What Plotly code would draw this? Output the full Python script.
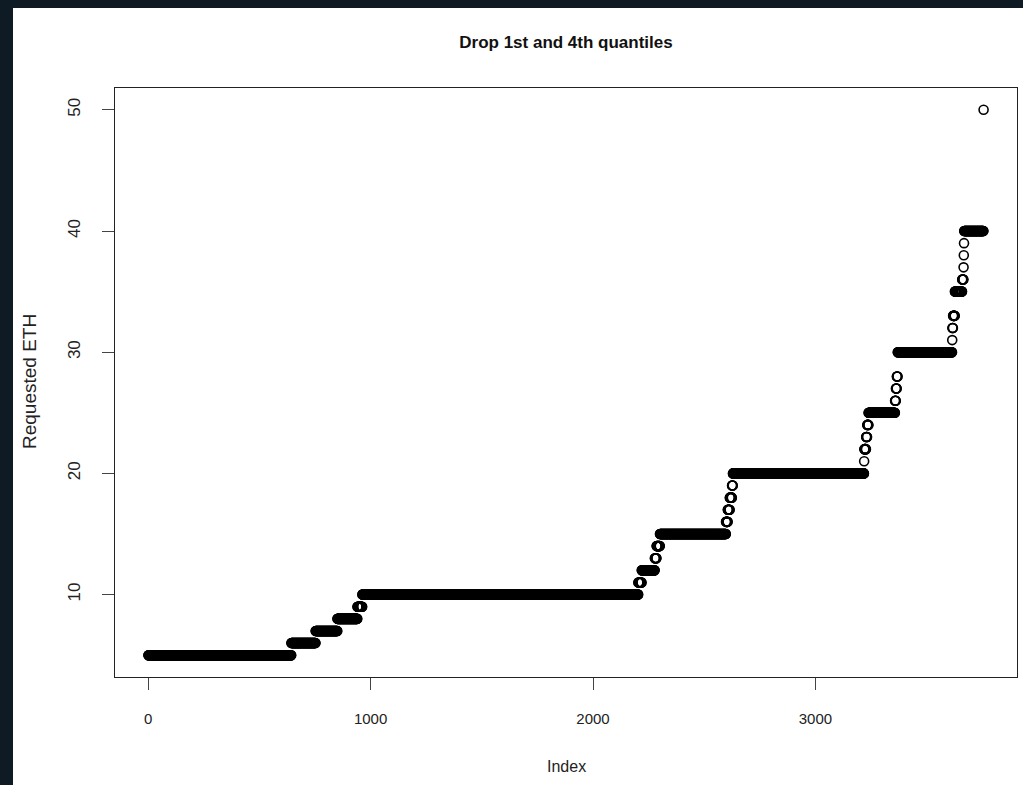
import numpy as np
import plotly.graph_objects as go

# Sorted "Requested ETH" values (levels) and how many observations sit at each level
levels = [5, 6, 7, 8, 9, 10, 11, 12, 13, 14, 15, 16, 17, 18, 19, 20,
          21, 22, 23, 24, 25, 26, 27, 28, 30, 31, 32, 33, 35, 36, 37, 38, 39, 40, 50]
counts = [643, 109, 98, 90, 22, 1241, 15, 59, 8, 15, 297, 8, 9, 10, 4, 590,
          1, 8, 5, 6, 119, 4, 4, 4, 245, 1, 3, 8, 33, 6, 1, 1, 1, 87, 1]

x_ticks = [0, 1000, 2000, 3000]
y_ticks = [10, 20, 30, 40, 50]

values = np.repeat(levels, counts)
index = np.arange(1, len(values) + 1)
n = len(values)

DARK = "#0e1b25"
W, H = 1023, 785
L, R, T, B = 115, 6, 88, 108
pw, ph = W - L - R, H - T - B

def px_x(p):
    return (p - L) / pw

def px_y(p):
    return (H - B - p) / ph

fig = go.Figure()
fig.add_trace(go.Scatter(
    x=index, y=values, mode="markers",
    marker=dict(symbol="circle-open", size=9, color="black",
                line=dict(width=1.6, color="black")),
    hoverinfo="x+y", showlegend=False,
))

xr = [1 - 0.04 * (n - 1), n + 0.04 * (n - 1)]
yr = [min(levels) - 0.04 * (max(levels) - min(levels)),
      max(levels) + 0.04 * (max(levels) - min(levels))]

font_family = "Liberation Sans, Arial, sans-serif"

axis_common = dict(
    showgrid=False, zeroline=False, showline=True, mirror=True,
    linecolor="#222", linewidth=1, ticks="outside", ticklen=12,
    tickcolor="#444", tickwidth=1,
)

fig.update_layout(
    width=W, height=H,
    margin=dict(l=L, r=R, t=T, b=B, pad=0),
    paper_bgcolor=DARK, plot_bgcolor="white",
    xaxis=dict(range=xr, tickvals=x_ticks, ticktext=[str(v) for v in x_ticks],
               tickfont=dict(family=font_family, size=15, color="#222"),
               ticklabelstandoff=16, **axis_common),
    yaxis=dict(range=yr, tickvals=y_ticks, ticktext=[str(v) for v in y_ticks], tickangle=-90,
               tickfont=dict(family=font_family, size=17, color="#222"),
               ticklabelstandoff=15, **axis_common),
    title=dict(text="<b>Drop 1st and 4th quantiles</b>", x=0.5, xref="paper",
               y=1 - 42 / H, yref="container", yanchor="middle", xanchor="center",
               font=dict(family=font_family, size=17, color="#111")),
    shapes=[dict(type="rect", xref="paper", yref="paper",
                 x0=px_x(13), x1=px_x(W + 2), y0=px_y(H + 2), y1=px_y(8),
                 fillcolor="white", line=dict(width=0), layer="below")],
    annotations=[
        dict(text="Index", xref="paper", yref="paper", x=0.5, y=px_y(767),
             xanchor="center", yanchor="middle", showarrow=False,
             font=dict(family=font_family, size=16, color="#222")),
        dict(text="Requested ETH", xref="paper", yref="paper", x=px_x(29), y=px_y(382),
             xanchor="center", yanchor="middle", textangle=-90, showarrow=False,
             font=dict(family=font_family, size=19, color="#222")),
    ],
)

fig.write_html("out.html", config={"displayModeBar": False},
               post_script="document.body.style.margin='0';document.body.style.overflow='hidden';document.body.style.background='%s';" % DARK)
